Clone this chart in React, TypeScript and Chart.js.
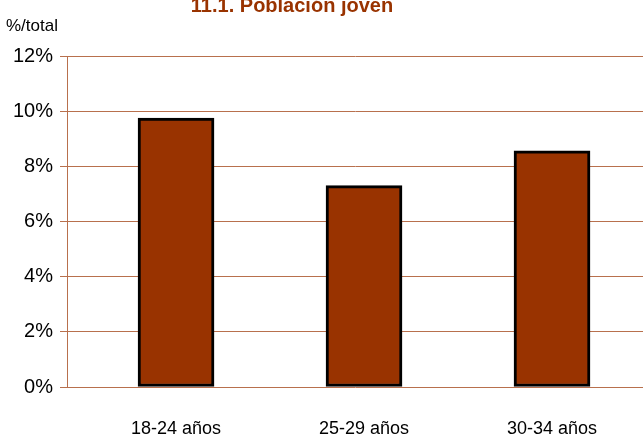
import React, { useEffect, useRef } from "react";
import { Chart, registerables } from "chart.js";

Chart.register(...registerables);

const categories = ["18-24 años", "25-29 años", "30-34 años"];
const values = [9.75, 7.3, 8.56];
const yTicks = [0, 2, 4, 6, 8, 10, 12];
const titleText = "11.1. Población joven";
const unitText = "%/total";

const FONT = '"Liberation Sans", Arial, sans-serif';
const BROWN = "#993300";
const GRID = "#b8704d";

export default function App() {
  const ref = useRef<HTMLCanvasElement | null>(null);

  useEffect(() => {
    document.body.style.margin = "0";
    const canvas = ref.current!;
    const textPlugin = {
      id: "texts",
      afterDraw(chart: any) {
        const ctx = chart.ctx;
        ctx.save();
        ctx.fillStyle = BROWN;
        ctx.font = `bold 20px ${FONT}`;
        ctx.textAlign = "center";
        ctx.textBaseline = "alphabetic";
        ctx.fillText(titleText, 292, 12);
        ctx.fillStyle = "#000";
        ctx.font = `17px ${FONT}`;
        ctx.textAlign = "left";
        ctx.fillText(unitText, 6, 31);
        ctx.restore();
      },
    };
    const chart = new Chart(canvas, {
      type: "bar",
      data: {
        datasets: [
          {
            data: values.map((v, i) => ({ x: i, y: v })),
            backgroundColor: BROWN,
            borderColor: "#000",
            borderWidth: 3,
            borderSkipped: false,
            barThickness: 76,
          },
        ],
      },
      options: {
        animation: false,
        responsive: false,
        maintainAspectRatio: false,
        layout: { padding: { top: 56, left: 0, right: 0, bottom: 0 } },
        plugins: { legend: { display: false }, title: { display: false }, tooltip: { enabled: false } },
        scales: {
          x: {
            type: "linear",
            offset: false,
            grace: 0,
            min: -0.58,
            max: 2.484,
            grid: { display: false },
            border: { display: false },
            afterBuildTicks(scale: any) {
              scale.ticks = categories.map((_, i) => ({ value: i }));
            },
            afterFit(scale: any) {
              scale.height = 52;
            },
            ticks: {
              padding: 23,
              maxRotation: 0,
              autoSkip: false,
              color: "#000",
              font: { family: FONT, size: 18 },
              callback: (v: any) => categories[v as number] ?? "",
            },
          },
          y: {
            min: 0,
            max: 12,
            afterBuildTicks(scale: any) {
              scale.ticks = yTicks.map((v) => ({ value: v }));
            },
            afterFit(scale: any) {
              scale.width = 67;
            },
            grid: { color: GRID, lineWidth: 1, tickLength: 7, drawTicks: true },
            border: { display: true, color: GRID, width: 1 },
            ticks: {
              padding: 7,
              color: "#000",
              font: { family: FONT, size: 20 },
              callback: (v: any) => `${v}%`,
            },
          },
        },
      },
      plugins: [textPlugin],
    });
    return () => chart.destroy();
  }, []);

  return (
    <div style={{ position: "fixed", left: 0, top: 0, width: 643, height: 439 }}>
      <canvas ref={ref} width={643} height={439} style={{ width: 643, height: 439, display: "block" }} />
    </div>
  );
}
